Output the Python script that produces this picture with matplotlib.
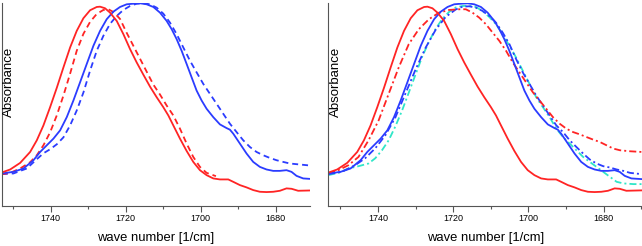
#!/usr/bin/env python3
import matplotlib
matplotlib.use("Agg")
import matplotlib.pyplot as plt
from matplotlib.ticker import MultipleLocator

plt.rcParams['font.family'] = ['Liberation Sans', 'DejaVu Sans']

# absorbance in arbitrary units (height above baseline)
red_wn = [1753.07, 1750.84, 1748.18, 1745.51, 1743.73, 1741.96, 1740.18, 1738.40,
          1736.62, 1734.84, 1733.07, 1731.29, 1729.51, 1727.73, 1726.84, 1725.51,
          1724.18, 1722.40, 1720.62, 1718.84, 1717.07, 1715.29, 1713.51, 1711.73,
          1709.96, 1708.62, 1707.29, 1705.51, 1703.73, 1701.96, 1700.18, 1698.40,
          1696.62, 1694.84, 1692.62, 1691.29, 1689.51, 1687.73, 1685.96, 1684.18,
          1682.40, 1680.62, 1678.84, 1677.07, 1675.73, 1673.96, 1669.80]
red_abs = [32.7, 35.7, 42.3, 53.3, 65.0, 80.0, 98.3, 117.7,
           138.3, 158.3, 175.0, 187.7, 195.7, 199.0, 199.3, 197.7,
           193.3, 185.0, 171.7, 156.7, 143.3, 131.0, 119.0, 108.3,
           98.3, 90.0, 80.0, 66.7, 54.3, 43.3, 35.0, 30.0,
           26.7, 25.7, 25.7, 23.3, 20.0, 17.7, 15.0, 13.3,
           13.0, 13.3, 14.3, 16.7, 16.3, 14.3, 14.7]

red_dash_wn = [1753.07, 1750.84, 1748.18, 1745.51, 1743.73, 1741.96, 1740.18, 1738.40,
               1736.62, 1734.84, 1733.07, 1731.29, 1729.51, 1727.73, 1725.96, 1724.62,
               1723.29, 1721.51, 1719.73, 1717.96, 1716.18, 1714.40, 1712.62, 1710.84,
               1709.07, 1707.29, 1705.51, 1703.73, 1701.96, 1700.18, 1698.40, 1695.91]
red_dash_abs = [31.0, 32.3, 36.7, 43.0, 50.0, 60.0, 73.0, 90.0,
                110.0, 132.0, 155.0, 172.0, 184.0, 192.0, 196.0, 196.7,
                194.0, 187.0, 173.0, 160.0, 147.0, 134.0, 121.0, 111.0,
                100.0, 90.0, 76.7, 61.7, 48.3, 38.3, 32.3, 29.0]

blue_wn = [1753.07, 1749.96, 1747.29, 1744.62, 1742.84, 1741.07, 1739.29, 1737.51,
           1735.73, 1733.96, 1732.18, 1730.40, 1728.62, 1726.84, 1725.07, 1723.29,
           1721.51, 1719.73, 1717.96, 1716.18, 1714.40, 1712.62, 1710.84, 1709.07,
           1707.73, 1706.40, 1705.07, 1703.73, 1702.40, 1701.07, 1699.73, 1698.40,
           1696.62, 1694.84, 1693.07, 1692.18, 1691.29, 1689.51, 1687.73, 1685.96,
           1684.18, 1682.40, 1680.62, 1678.84, 1677.07, 1675.73, 1674.40, 1672.62,
           1669.80]
blue_abs = [31.7, 33.3, 36.7, 45.0, 53.3, 60.0, 66.7, 75.0,
            88.3, 105.0, 123.3, 141.7, 160.0, 175.0, 186.7, 194.3,
            199.0, 201.7, 202.3, 202.7, 201.7, 199.0, 193.3, 185.0,
            176.7, 166.7, 155.0, 141.7, 128.3, 115.0, 105.0, 96.7,
            88.3, 81.0, 77.3, 75.7, 71.7, 61.7, 51.7, 43.3,
            38.3, 35.7, 34.3, 34.3, 35.0, 33.3, 29.3, 26.7,
            26.0]

blue_dash_wn = [1753.07, 1749.96, 1746.40, 1743.73, 1741.96, 1740.18, 1738.40, 1736.62,
                1734.84, 1733.07, 1731.29, 1729.51, 1727.73, 1725.96, 1724.18, 1722.40,
                1720.62, 1718.84, 1717.07, 1715.29, 1713.51, 1711.73, 1709.96, 1708.18,
                1706.40, 1704.62, 1702.84, 1701.07, 1699.29, 1697.51, 1695.73, 1693.96,
                1692.18, 1690.40, 1688.62, 1686.84, 1685.07, 1683.29, 1681.51, 1679.73,
                1677.96, 1676.18, 1673.51, 1670.84]
blue_dash_abs = [31.0, 31.7, 36.7, 46.0, 52.0, 56.0, 61.0, 68.0,
                 80.0, 95.0, 113.0, 135.0, 155.0, 170.0, 182.0, 190.0,
                 196.0, 200.0, 202.3, 202.7, 201.7, 198.3, 192.3, 183.3,
                 171.7, 158.3, 145.0, 133.3, 121.7, 111.7, 101.7, 91.7,
                 81.7, 73.3, 65.0, 58.3, 53.3, 50.0, 47.3, 45.0,
                 43.3, 41.7, 40.7, 39.7]

red_dd_wn = [1753.19, 1750.52, 1747.84, 1745.17, 1742.50, 1739.82, 1737.15, 1734.47,
             1731.80, 1729.13, 1726.45, 1723.78, 1721.11, 1718.43, 1716.65, 1714.87,
             1713.08, 1711.30, 1709.52, 1707.74, 1705.95, 1704.17, 1702.39, 1700.61,
             1698.82, 1697.04, 1695.26, 1693.48, 1691.69, 1689.91, 1688.13, 1686.35,
             1684.56, 1682.78, 1681.00, 1679.22, 1677.43, 1675.65, 1672.98, 1669.86]
red_dd_abs = [31.7, 35.0, 40.0, 48.3, 65.0, 85.0, 111.7, 138.3,
              161.7, 176.7, 186.7, 193.3, 196.0, 196.7, 196.7, 193.3,
              188.3, 181.7, 173.3, 165.0, 155.0, 143.3, 133.3, 123.3,
              113.3, 105.0, 96.7, 88.3, 81.7, 76.7, 73.3, 71.0,
              68.3, 65.7, 63.3, 60.0, 56.7, 55.0, 54.0, 53.3]

blue_dd_wn = [1753.19, 1749.63, 1746.06, 1743.39, 1740.71, 1738.04, 1735.37, 1732.69,
              1730.02, 1727.34, 1724.67, 1722.00, 1719.32, 1717.54, 1715.76, 1713.98,
              1712.19, 1710.41, 1708.63, 1706.84, 1705.06, 1703.28, 1701.50, 1699.71,
              1697.93, 1696.15, 1694.37, 1692.58, 1690.80, 1689.02, 1687.24, 1685.45,
              1683.67, 1681.89, 1680.11, 1678.33, 1676.54, 1674.76, 1672.98, 1669.86]
blue_dd_abs = [31.0, 33.3, 40.0, 47.0, 57.0, 70.0, 88.0, 112.0,
               136.0, 158.0, 176.0, 189.0, 196.5, 199.3, 199.7, 198.3,
               195.0, 190.0, 183.3, 173.3, 161.7, 146.7, 133.3, 121.7,
               110.0, 100.0, 90.0, 80.0, 73.3, 65.0, 58.3, 51.7,
               45.7, 41.7, 39.0, 37.7, 35.7, 34.3, 32.3, 31.0]

cyan_dd_wn = [1753.19, 1750.52, 1747.84, 1745.17, 1742.50, 1740.71, 1738.93, 1737.15,
              1735.37, 1733.58, 1731.80, 1730.02, 1728.24, 1726.45, 1724.67, 1722.89,
              1721.11, 1719.32, 1717.54, 1715.76, 1713.98, 1712.19, 1710.41, 1708.63,
              1706.84, 1705.06, 1703.28, 1701.50, 1699.71, 1697.93, 1696.15, 1694.37,
              1692.58, 1690.80, 1689.02, 1687.24, 1685.45, 1683.67, 1681.89, 1680.11,
              1678.33, 1676.54, 1674.76, 1672.08, 1669.86]
cyan_dd_abs = [30.0, 32.3, 36.7, 39.0, 41.7, 47.0, 55.0, 65.0,
               79.0, 95.0, 113.0, 131.0, 149.0, 164.0, 177.0, 187.0,
               194.0, 198.5, 200.0, 200.3, 199.0, 195.0, 189.0, 181.7,
               171.7, 160.0, 148.3, 135.0, 121.7, 108.3, 98.3, 88.3,
               76.7, 68.3, 61.7, 55.0, 48.3, 43.3, 38.3, 33.3,
               28.3, 23.3, 21.7, 21.0, 21.0]

RED = '#ff2424'
BLUE = '#2b3cff'
CYAN = '#30e6c8'
DASH = (0, (3.3, 2.2))
DASHDOT = (0, (3.9, 1.7, 1.1, 1.7))
LW = 1.3


def style_axes(ax, xmin, xmax):
    ax.set_xlim(xmin, xmax)
    ax.set_ylim(-1, 203)
    for side in ('top', 'right'):
        ax.spines[side].set_visible(False)
    for side in ('left', 'bottom'):
        ax.spines[side].set_color('#555555')
        ax.spines[side].set_linewidth(0.8)
    ax.set_yticks([])
    ax.xaxis.set_major_locator(MultipleLocator(20))
    ax.xaxis.set_minor_locator(MultipleLocator(10))
    ax.tick_params(axis='x', which='major', length=4, width=0.8, color='#555555',
                   labelsize=6.5, pad=2)
    ax.tick_params(axis='x', which='minor', length=2.5, width=0.8, color='#555555')
    ax.set_xlabel('wave number [1/cm]', fontsize=9.4, labelpad=6)
    ax.text(0.004, 0.61, 'Absorbance', rotation=90, ha='left', va='center',
            fontsize=9.5, transform=ax.transAxes)


fig = plt.figure(figsize=(6.42, 2.46), dpi=100)
ax1 = fig.add_axes([1.7 / 642, 40 / 246, 308.3 / 642, 203 / 246])
ax2 = fig.add_axes([328.3 / 642, 40 / 246, 313.7 / 642, 203 / 246])

# left panel
ax1.plot(blue_dash_wn, blue_dash_abs, color=BLUE, lw=LW, linestyle=DASH)
ax1.plot(red_dash_wn, red_dash_abs, color=RED, lw=LW, linestyle=DASH)
ax1.plot(blue_wn, blue_abs, color=BLUE, lw=LW, solid_joinstyle='round')
ax1.plot(red_wn, red_abs, color=RED, lw=LW, solid_joinstyle='round')
style_axes(ax1, 1753.1, 1670.8)

# right panel
ax2.plot(cyan_dd_wn, cyan_dd_abs, color=CYAN, lw=LW, linestyle=DASHDOT)
ax2.plot(blue_dd_wn, blue_dd_abs, color=BLUE, lw=LW, linestyle=DASHDOT)
ax2.plot(red_dd_wn, red_dd_abs, color=RED, lw=LW, linestyle=DASHDOT)
ax2.plot(blue_wn, blue_abs, color=BLUE, lw=LW, solid_joinstyle='round')
ax2.plot(red_wn, red_abs, color=RED, lw=LW, solid_joinstyle='round')
style_axes(ax2, 1753.2, 1669.8)

fig.savefig('out.png', dpi=100)
